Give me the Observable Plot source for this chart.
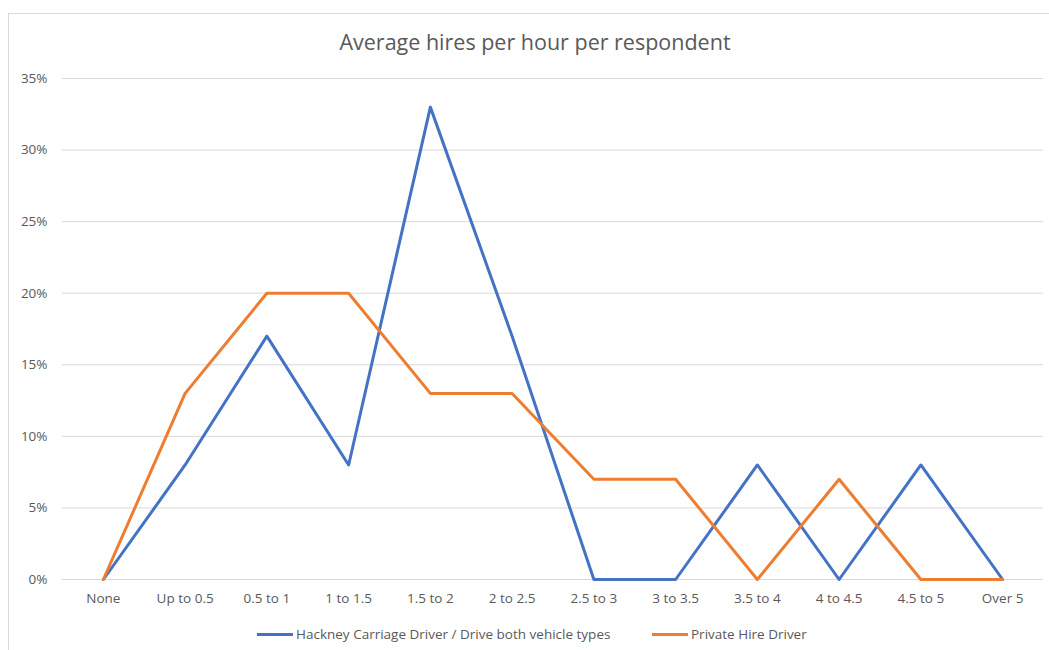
<!DOCTYPE html>
<html>
<head>
<meta charset="utf-8">
<script src="https://cdn.jsdelivr.net/npm/d3@7"></script>
<script src="https://cdn.jsdelivr.net/npm/@observablehq/plot@0.6"></script>
<style>
  body { margin: 0; background: #fff; }
  #wrap { position: relative; width: 1049px; height: 650px; overflow: hidden; font-family: "Open Sans", sans-serif; }
  #frame { position: absolute; left: 8px; top: 13px; width: 1100px; height: 700px; border: 1px solid #d9d9d9; box-sizing: border-box; }
  #title { position: absolute; left: 0; width: 1070px; top: 27px; text-align: center; font-size: 21.5px; color: #595959; }
  #chart { position: absolute; left: 0; top: 0; }
  #legend { position: absolute; top: 625px; left: 0; width: 1049px; font-size: 13.5px; color: #595959; }
  .item { position: absolute; display: flex; align-items: center; white-space: nowrap; }
  .sw { display: inline-block; width: 36px; height: 3px; margin-right: 3px; }
</style>
</head>
<body>
<div id="wrap">
  <div id="frame"></div>
  <div id="title">Average hires per hour per respondent</div>
  <div id="chart"></div>
  <div id="legend"></div>
</div>
<script>
const categories = ["None", "Up to 0.5", "0.5 to 1", "1 to 1.5", "1.5 to 2", "2 to 2.5", "2.5 to 3", "3 to 3.5", "3.5 to 4", "4 to 4.5", "4.5 to 5", "Over 5"];
const hackney = [0, 8, 17, 8, 33, 17, 0, 0, 8, 0, 8, 0];
const privateHire = [0, 13, 20, 20, 13, 13, 7, 7, 0, 7, 0, 0];
const seriesNames = ["Hackney Carriage Driver / Drive both vehicle types", "Private Hire Driver"];
const seriesColors = ["#4472C4", "#ED7D31"];
const yTicks = [0, 5, 10, 15, 20, 25, 30, 35];

const data = [];
categories.forEach((c, i) => {
  data.push({cat: c, value: hackney[i], series: seriesNames[0]});
  data.push({cat: c, value: privateHire[i], series: seriesNames[1]});
});

const chart = Plot.plot({
  width: 1049,
  height: 650,
  marginLeft: 62,
  marginRight: 6,
  marginTop: 78,
  marginBottom: 71,
  style: {fontFamily: "'Open Sans', sans-serif", fontSize: "13.5px", color: "#595959", background: "transparent"},
  x: {type: "point", domain: categories, padding: 0.5, round: false, label: null},
  y: {domain: [0, 35], ticks: yTicks, label: null, tickFormat: d => d + "%"},
  color: {domain: seriesNames, range: seriesColors},
  marks: [
    Plot.gridY(yTicks, {stroke: "#d9d9d9", strokeOpacity: 1, strokeWidth: 1}),
    Plot.axisY({ticks: yTicks, tickSize: 0, tickPadding: 15, tickFormat: d => d + "%", fill: "#595959", label: null}),
    Plot.axisX({tickSize: 0, tickPadding: 14, fill: "#595959", label: null}),
    Plot.line(data, {x: "cat", y: "value", z: "series", stroke: "series", strokeWidth: 3, strokeLinejoin: "round", strokeLinecap: "round"})
  ]
});
document.getElementById("chart").appendChild(chart);

const legend = document.getElementById("legend");
const lefts = [257, 652];
seriesNames.forEach((n, i) => {
  const it = document.createElement("div");
  it.className = "item";
  it.style.left = lefts[i] + "px";
  it.innerHTML = `<span class="sw" style="background:${seriesColors[i]}"></span><span>${n}</span>`;
  legend.appendChild(it);
});
</script>
</body>
</html>
